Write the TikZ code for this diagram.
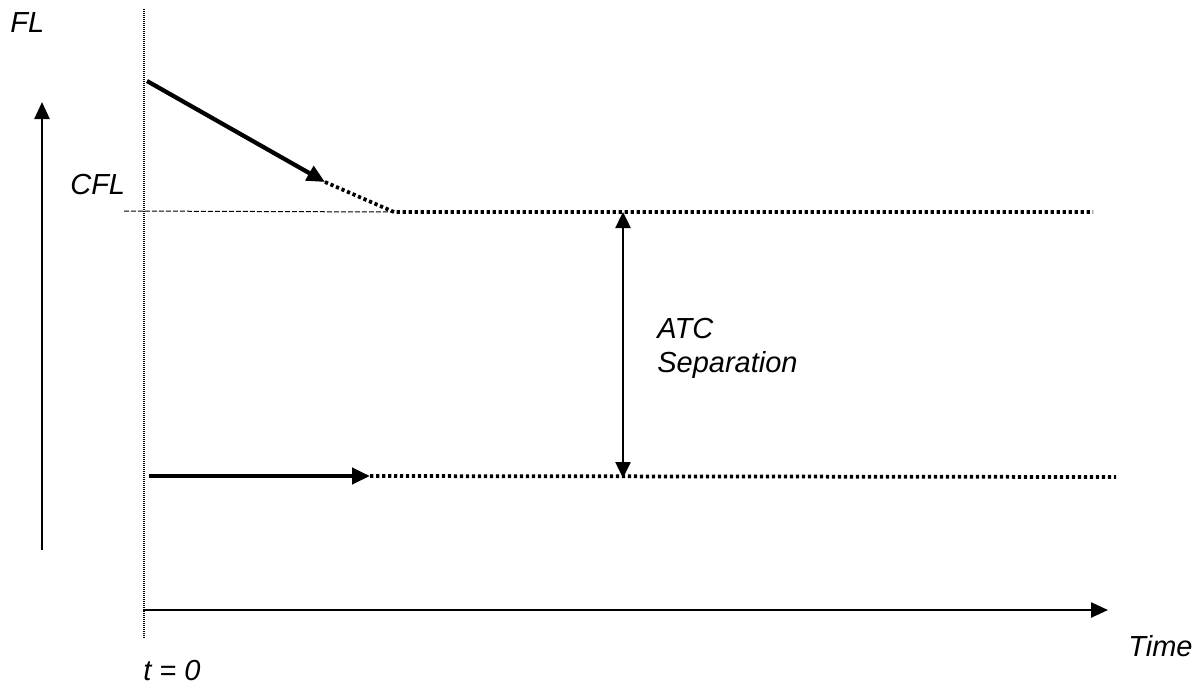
\documentclass[tikz,border=0pt]{standalone}
\usepackage{fontspec}
\setmainfont{Liberation Sans}
\usetikzlibrary{arrows.meta}

\begin{document}
\begin{tikzpicture}[x=0.02cm,y=-0.02cm,
  lbl/.style={font=\itshape\fontsize{16.5}{19.3}\selectfont,inner sep=0pt},
  axis/.style={line width=0.05cm,-{Triangle[length=0.34cm,width=0.3cm]}},
  track/.style={line width=0.085cm,-{Triangle[length=0.36cm,width=0.32cm]}},
  proj/.style={line width=0.075cm,dash pattern=on 0.065cm off 0.055cm},
  guide/.style={line width=0.02cm,dash pattern=on 0.1cm off 0.04cm},
  zero/.style={line width=0.025cm,dash pattern=on 0.02cm off 0.02cm}]

  \useasboundingbox (0,0) rectangle (1199,684);

  \node[lbl,anchor=base west] (fl) at (10,32) {FL};
  \node[lbl,anchor=base west] (cfl) at (70,194) {CFL};
  \node[lbl,anchor=north west,align=left] (sep) at (657,318) {ATC\\Separation};
  \node[lbl,anchor=base west] (t0) at (143,680) {t = 0};
  \node[lbl,anchor=base west] (time) at (1128,656) {Time};

  \coordinate (z1) at (144,9);
  \coordinate (z2) at (144,639);
  \coordinate (fl1) at (42,550);
  \coordinate (fl2) at (42,102);
  \coordinate (t1) at (143,610);
  \coordinate (t2) at (1108,610);

  \coordinate (d1) at (147,81);
  \coordinate (d2) at (325,182);
  \coordinate (d3) at (394,212);
  \coordinate (d4) at (1093,212);
  \coordinate (g1) at (124,211);

  \coordinate (l1) at (149,476);
  \coordinate (l2) at (370,476);
  \coordinate (l3) at (1116,477);

  \coordinate (s1) at (623,212);
  \coordinate (s2) at (623,478);

  % axes
  \draw[zero] (z1) -- (z2);
  \draw[axis] (fl1) -- (fl2);
  \draw[axis] (t1) -- (t2);
  \draw[guide] (g1) -- (d3);

  % descending aircraft
  \draw[proj] (d2) -- (d3) -- (d4);
  \draw[track] (d1) -- (d2);

  % level aircraft
  \draw[proj] (l2) -- (l3);
  \draw[track] (l1) -- (l2);

  % separation
  \draw[line width=0.05cm,{Triangle[length=0.32cm,width=0.3cm]}-{Triangle[length=0.32cm,width=0.3cm]}] (s1) -- (s2);
\end{tikzpicture}
\end{document}
